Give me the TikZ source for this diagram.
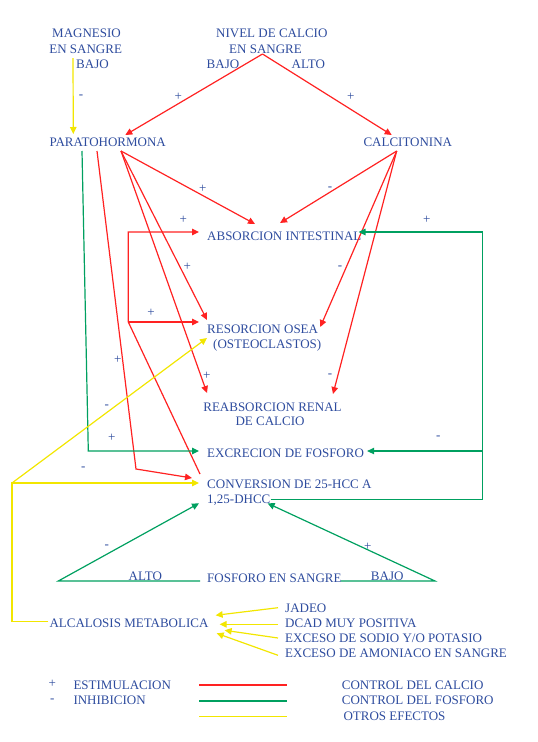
\documentclass[tikz,border=0pt]{standalone}
\usepackage{fontspec}
\setmainfont{Liberation Serif}
\usepackage{tikz}
\usetikzlibrary{arrows.meta,calc}
\definecolor{TextoAzul}{HTML}{2E4C9E}
\definecolor{CalcioRojo}{HTML}{FF2222}
\definecolor{FosforoVerde}{HTML}{00A060}
\definecolor{OtrosAmarillo}{HTML}{F2E600}
\tikzset{
  txt/.style={text=TextoAzul, inner sep=0pt, font=\fontsize{13}{15}\selectfont},
  sign/.style={txt, anchor=center},
  wire/.style={-{Triangle[length=7pt,width=6.5pt]}, line width=1.2pt},
  calciowire/.style={wire, draw=CalcioRojo},
  fosforowire/.style={wire, draw=FosforoVerde},
  otrowire/.style={wire, draw=OtrosAmarillo}
}

\begin{document}
\begin{tikzpicture}[x=1pt, y=-1pt]
  \useasboundingbox (0,0) rectangle (538,742);
  % niveles en sangre
  \node[txt, anchor=base] (mag1) at (86.5,37.3) {MAGNESIO};
  \node[txt, anchor=base] (mag2) at (85.7,53) {EN SANGRE};
  \node[txt, anchor=base west] (magbajo) at (76,68.3) {BAJO};
  \node[txt, anchor=base] (cal1) at (271.8,37.3) {NIVEL DE CALCIO};
  \node[txt, anchor=base] (cal2) at (265.5,53) {EN SANGRE};
  \node[txt, anchor=base] (calbajo) at (223,68.3) {BAJO};
  \node[txt, anchor=base] (calalto) at (308.3,68.3) {ALTO};
  % hormonas
  \node[txt, anchor=base west] (pth) at (49.3,146) {PARATOHORMONA};
  \node[txt, anchor=base west] (ctn) at (363.3,146) {CALCITONINA};
  % efectos
  \node[txt, anchor=base west] (abs) at (207,240) {ABSORCION INTESTINAL};
  \node[txt, anchor=base west] (res) at (207,333) {RESORCION OSEA};
  \node[txt, anchor=base west] (res2) at (213,348) {(OSTEOCLASTOS)};
  \node[txt, anchor=base] (rea) at (272.5,411) {REABSORCION RENAL};
  \node[txt, anchor=base] (rea2) at (270,425.7) {DE CALCIO};
  \node[txt, anchor=base west] (exc) at (207,457.7) {EXCRECION DE FOSFORO};
  \node[txt, anchor=base west] (conv) at (207,488) {CONVERSION DE 25-HCC A};
  \node[txt, anchor=base west] (conv2) at (207,503.3) {1,25-DHCC};
  \node[txt, anchor=base west] (fos) at (207,582) {FOSFORO EN SANGRE};
  \node[txt, anchor=base] (fosalto) at (145.3,580) {ALTO};
  \node[txt, anchor=base] (fosbajo) at (387.2,580) {BAJO};
  \node[txt, anchor=base west] (alc) at (49.3,627.3) {ALCALOSIS METABOLICA};
  \node[txt, anchor=base west] (jad) at (285,612.7) {JADEO};
  \node[txt, anchor=base west] (dcad) at (285,627.3) {DCAD MUY POSITIVA};
  \node[txt, anchor=base west] (sod) at (285,642) {EXCESO DE SODIO Y/O POTASIO};
  \node[txt, anchor=base west] (amo) at (285,657.3) {EXCESO DE AMONIACO EN SANGRE};

  % puntos de quiebre
  \coordinate (redkink) at (136,469);
  \coordinate (vdlow) at (128.3,322);
  \coordinate (grnkink) at (88.3,451);
  \coordinate (grntop) at (482.3,232);
  \coordinate (yjunc) at (12,483);
  \coordinate (fosL) at (58.3,581);
  \coordinate (fosR) at (435,581);
  \coordinate (excR) at ($(exc.base east)+(3,-6.7)$);

  % control del calcio
  \draw[calciowire] ($(cal2.base)+(-3,1)$) -- ($(pth.base west)+(76,-11)$);
  \draw[calciowire] ($(cal2.base)+(-3,1)$) -- ($(ctn.base west)+(28.4,-11)$);
  \draw[calciowire] ($(pth.base west)+(71.7,5)$) -- ($(abs.base west)+(48,-16)$);
  \draw[calciowire] ($(pth.base west)+(71.7,5)$) -- ($(res.base west)+(0,-13)$);
  \draw[calciowire] ($(pth.base west)+(71.7,5)$) -- ($(rea.base)+(-65.5,-18)$);
  \draw[calciowire] ($(pth.base west)+(47.7,5)$) -- (redkink) -- ($(conv.base west)+(-15,-10)$);
  \draw[calciowire] ($(ctn.base west)+(33.4,5)$) -- ($(abs.base west)+(73,-17)$);
  \draw[calciowire] ($(ctn.base west)+(33.4,5)$) -- ($(res.base east)+(2,-6)$);
  \draw[calciowire] ($(ctn.base west)+(33.4,5)$) -- ($(rea.base)+(60.5,-17)$);
  \draw[calciowire] ($(conv.base west)+(-7,-14)$) -- (vdlow) |- ($(abs.base west)+(-8,-8)$);
  \draw[calciowire] (vdlow) -- ($(res.base west)+(-8,-11)$);

  % control del fosforo
  \draw[fosforowire] ($(pth.base west)+(32.7,5)$) -- (grnkink) -- ($(exc.base west)+(-8,-6.7)$);
  \draw[fosforowire] ($(conv2.base east)+(0,-4)$) -| (grntop) -- ($(abs.base east)+(-3,-8)$);
  \draw[fosforowire] (grntop |- excR) -- (excR);
  \draw[fosforowire] ($(fos.base west)+(-7,-1)$) -- (fosL) -- ($(conv2.base west)+(-8,0)$);
  \draw[fosforowire] ($(fos.base east)+(-1,-1)$) -- (fosR) -- ($(conv2.base east)+(-3,0)$);

  % otros efectos
  \draw[otrowire] ($(mag2.base)+(-12.7,5)$) -- ($(pth.base west)+(24,-12)$);
  \draw[otrowire] ($(alc.base west)+(-1,-6)$) -| (yjunc) -- ($(conv.base west)+(-8,-5)$);
  \draw[otrowire] (yjunc) -- ($(res.base west)+(0,5)$);
  \draw[otrowire] ($(jad.base west)+(-7,-5)$) -- ($(alc.base east)+(7,-12)$);
  \draw[otrowire] ($(dcad.base west)+(-7,-3)$) -- ($(alc.base east)+(11,-3)$);
  \draw[otrowire] ($(sod.base west)+(-7,-4)$) -- ($(alc.base east)+(16,3)$);
  \draw[otrowire] ($(amo.base west)+(-7,-2)$) -- ($(alc.base east)+(8,6)$);

  % signos
  \node[sign] (sgmag) at (81,96.7) {-};
  \node[sign] (sgpth) at (178.3,96.7) {+};
  \node[sign] (sgctn) at (350.7,96.7) {+};
  \node[sign] (sgpthabs) at (202.7,189) {+};
  \node[sign] (sgctnabs) at (330,189) {-};
  \node[sign] (sgvdabs) at (183.3,220.3) {+};
  \node[sign] (sgfosabs) at (426.7,220.3) {+};
  \node[sign] (sgpthres) at (187.3,267.3) {+};
  \node[sign] (sgctnres) at (340,267.3) {-};
  \node[sign] (sgvdres) at (151,313.3) {+};
  \node[sign] (sgpthconv) at (117.7,360.3) {+};
  \node[sign] (sgpthrea) at (206.7,375.5) {+};
  \node[sign] (sgctnrea) at (330,375.5) {-};
  \node[sign] (sgalcres) at (106.7,406.7) {-};
  \node[sign] (sgpthexc) at (111.7,438.3) {+};
  \node[sign] (sgvdexc) at (438.3,437.7) {-};
  \node[sign] (sgalcconv) at (83.3,469) {-};
  \node[sign] (sgalto) at (106.7,546.7) {-};
  \node[sign] (sgbajo) at (367.7,547.3) {+};

  % leyenda
  \node[sign] (legmas) at (52.3,684.3) {+};
  \node[txt, anchor=base west] (legest) at (73.3,689) {ESTIMULACION};
  \node[sign] (legmenos) at (52.3,701) {-};
  \node[txt, anchor=base west] (leginh) at (73.3,704.3) {INHIBICION};
  \node[txt, anchor=base west] (legcal) at (341.7,689) {CONTROL DEL CALCIO};
  \node[txt, anchor=base west] (legfos) at (341.7,704.5) {CONTROL DEL FOSFORO};
  \node[txt, anchor=base west] (legotr) at (343.3,720) {OTROS EFECTOS};
  \draw[calciowire, -] ($(legcal.base west)+(-142.4,-4)$) -- ($(legcal.base west)+(-55,-4)$);
  \draw[fosforowire, -] ($(legfos.base west)+(-142.4,-3.5)$) -- ($(legfos.base west)+(-55,-3.5)$);
  \draw[otrowire, -] ($(legotr.base west)+(-144,-3.3)$) -- ($(legotr.base west)+(-56.6,-3.3)$);
\end{tikzpicture}
\end{document}
